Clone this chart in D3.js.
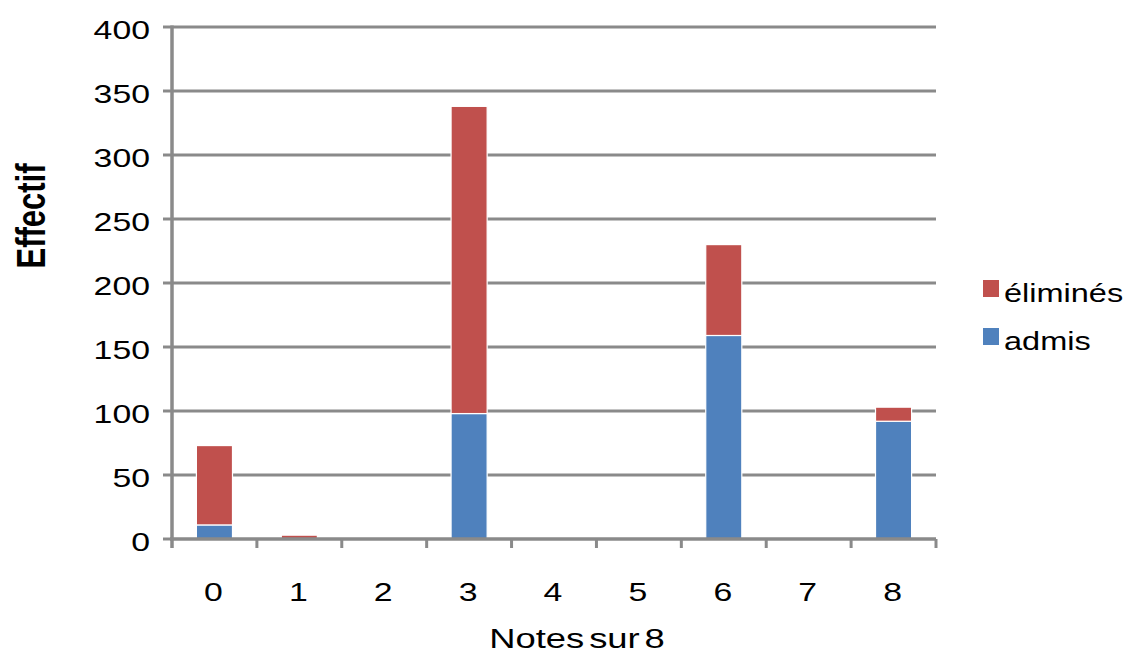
<!DOCTYPE html>
<html>
<head>
<meta charset="utf-8">
<script src="https://cdn.jsdelivr.net/npm/d3@7"></script>
<style>
  html, body { margin: 0; padding: 0; background: #fff; }
  svg { display: block; }
  text { font-family: "Liberation Sans", Arial, sans-serif; fill: #000; }
</style>
</head>
<body>
<svg id="chart" width="1130" height="655"></svg>
<script>
// Notes sur 8 : effectif des admis et des éliminés par note
const categories = ["0", "1", "2", "3", "4", "5", "6", "7", "8"];
const admis     = [11, 0, 0, 98, 0, 0, 159, 0, 92];
const elimines  = [62, 3, 0, 240, 0, 0, 71, 0, 11];
const yTicks    = [0, 50, 100, 150, 200, 250, 300, 350, 400];
const seriesNames = ["admis", "éliminés"];
const seriesColors = ["#4F81BD", "#C0504D"];

const svg = d3.select("#chart");
const STRETCH = 1.3;           // horizontal text stretch of the layout
const gridColor = "#8a8a8a";

const x = d3.scaleBand()
  .domain(categories)
  .range([172, 936])
  .paddingInner(0.575)
  .paddingOuter(0.2875);

const xCat = d3.scaleBand().domain(categories).range([172, 936]);

const y = d3.scaleLinear().domain([0, 400]).range([539, 27]);

// horizontal gridlines
svg.append("g")
  .selectAll("line")
  .data(yTicks.filter(d => d > 0))
  .join("line")
  .attr("x1", 172).attr("x2", 936)
  .attr("y1", d => y(d)).attr("y2", d => y(d))
  .attr("stroke", gridColor).attr("stroke-width", 3);

// stacked bars
const rows = categories.map((c, i) => ({ cat: c, admis: admis[i], elimines: elimines[i] }));
const stack = d3.stack().keys(["admis", "elimines"]);
const layers = stack(rows);

svg.append("g")
  .selectAll("g")
  .data(layers)
  .join("g")
  .attr("fill", (d, i) => seriesColors[i])
  .selectAll("rect")
  .data(d => d.filter(s => s[1] - s[0] > 0))
  .join("rect")
  .attr("x", d => x(d.data.cat))
  .attr("width", x.bandwidth())
  .attr("y", d => y(d[1]))
  .attr("height", d => y(d[0]) - y(d[1]))
  .attr("stroke", "#fff")
  .attr("stroke-width", 1.2);

// y axis
const yAxis = svg.append("g");
yAxis.append("line")
  .attr("x1", 172).attr("x2", 172)
  .attr("y1", y(400) - 1.5).attr("y2", 548)
  .attr("stroke", gridColor).attr("stroke-width", 3.5);
yAxis.selectAll("line.tick")
  .data(yTicks)
  .join("line")
  .attr("class", "tick")
  .attr("x1", 163).attr("x2", 172)
  .attr("y1", d => y(d)).attr("y2", d => y(d))
  .attr("stroke", gridColor).attr("stroke-width", 3);
yAxis.selectAll("text")
  .data(yTicks)
  .join("text")
  .attr("transform", d => `translate(150,${y(d) + 12}) scale(${STRETCH},1)`)
  .attr("text-anchor", "end")
  .attr("font-size", 26)
  .text(d => d);

// x axis
const xAxis = svg.append("g");
xAxis.append("line")
  .attr("x1", 170).attr("x2", 936)
  .attr("y1", y(0)).attr("y2", y(0))
  .attr("stroke", gridColor).attr("stroke-width", 3.5);
const boundaries = categories.map(c => xCat(c)).concat([xCat.range()[1]]);
xAxis.selectAll("line.tick")
  .data(boundaries.slice(1))
  .join("line")
  .attr("class", "tick")
  .attr("x1", d => d).attr("x2", d => d)
  .attr("y1", y(0)).attr("y2", 548)
  .attr("stroke", gridColor).attr("stroke-width", 3);
xAxis.selectAll("text")
  .data(categories)
  .join("text")
  .attr("transform", d => `translate(${xCat(d) + xCat.bandwidth() / 2 - 1},601) scale(${STRETCH},1)`)
  .attr("text-anchor", "middle")
  .attr("font-size", 26)
  .text(d => d);

// axis titles
svg.append("text")
  .attr("transform", `translate(577,648) scale(${STRETCH},1)`)
  .attr("text-anchor", "middle")
  .attr("font-size", 28)
  .attr("word-spacing", -4)
  .text("Notes sur 8");

svg.append("text")
  .attr("transform", `translate(45,216) scale(${STRETCH},1) rotate(-90)`)
  .attr("text-anchor", "middle")
  .attr("font-size", 31)
  .attr("font-weight", "bold")
  .text("Effectif");

// legend (éliminés on top, admis below)
const legend = svg.append("g");
const legendItems = [
  { name: seriesNames[1], color: seriesColors[1], yBase: 302 },
  { name: seriesNames[0], color: seriesColors[0], yBase: 350 }
];
legend.selectAll("rect")
  .data(legendItems)
  .join("rect")
  .attr("x", 983).attr("y", d => d.yBase - 22)
  .attr("width", 16).attr("height", 17)
  .attr("fill", d => d.color);
legend.selectAll("text")
  .data(legendItems)
  .join("text")
  .attr("transform", d => `translate(1004,${d.yBase}) scale(${STRETCH},1)`)
  .attr("font-size", 25)
  .text(d => d.name);
</script>
</body>
</html>
